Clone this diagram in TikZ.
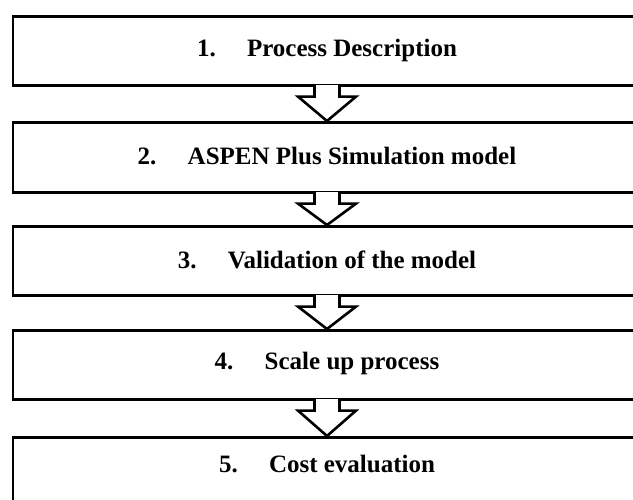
\documentclass[tikz,border=0pt]{standalone}
\usepackage{fontspec}
\setmainfont{Liberation Serif}
\begin{document}
\begin{tikzpicture}[x=1pt,y=-1pt,
  stage/.style={draw=black, line width=2.6pt, fill=white, minimum width=628pt,
    minimum height=69pt, inner sep=0pt, anchor=north},
  label/.style={font=\fontsize{25}{29}\selectfont\bfseries, inner sep=0pt},
  arrowline/.style={draw=black, line width=2.6pt, line join=miter}
  ]
\useasboundingbox (0,0) rectangle (633,499);
\clip (0,0) rectangle (633,499);
\fill[white] (0,0) rectangle (633,499);
\newcommand\flowarrow[2]{%
  \fill[white] ([xshift=-11.2pt,yshift=2pt]#1.south) rectangle ([xshift=11.2pt,yshift=-2pt]#1.south);
  \draw[arrowline] ([xshift=-12.5pt]#1.south) -- ([xshift=-12.5pt,yshift=-10pt]#1.south)
    -- ([xshift=-29pt,yshift=-10pt]#1.south) -- (#2.north)
    -- ([xshift=29pt,yshift=-10pt]#1.south) -- ([xshift=12.5pt,yshift=-10pt]#1.south)
    -- ([xshift=12.5pt]#1.south);
}
\node[stage] (s1) at (327,15) {};
\node[stage, minimum height=70pt] (s2) at (327,121) {};
\node[stage] (s3) at (327,225) {};
\node[stage] (s4) at (327,329) {};
\node[stage] (s5) at (327,436) {};
\node[label] (t1) at (s1.center) {1.\hspace{1.25em}Process Description};
\node[label] (t2) at ([yshift=1.5pt]s2.center) {2.\hspace{1.25em}ASPEN Plus Simulation model};
\node[label] (t3) at ([yshift=1pt]s3.center) {3.\hspace{1.25em}Validation of the model};
\node[label] (t4) at ([yshift=1.5pt]s4.center) {4.\hspace{1.25em}Scale up process};
\node[label] (t5) at ([yshift=8pt]s5.center) {5.\hspace{1.25em}Cost evaluation};
\flowarrow{s1}{s2}
\flowarrow{s2}{s3}
\flowarrow{s3}{s4}
\flowarrow{s4}{s5}
\end{tikzpicture}
\end{document}
